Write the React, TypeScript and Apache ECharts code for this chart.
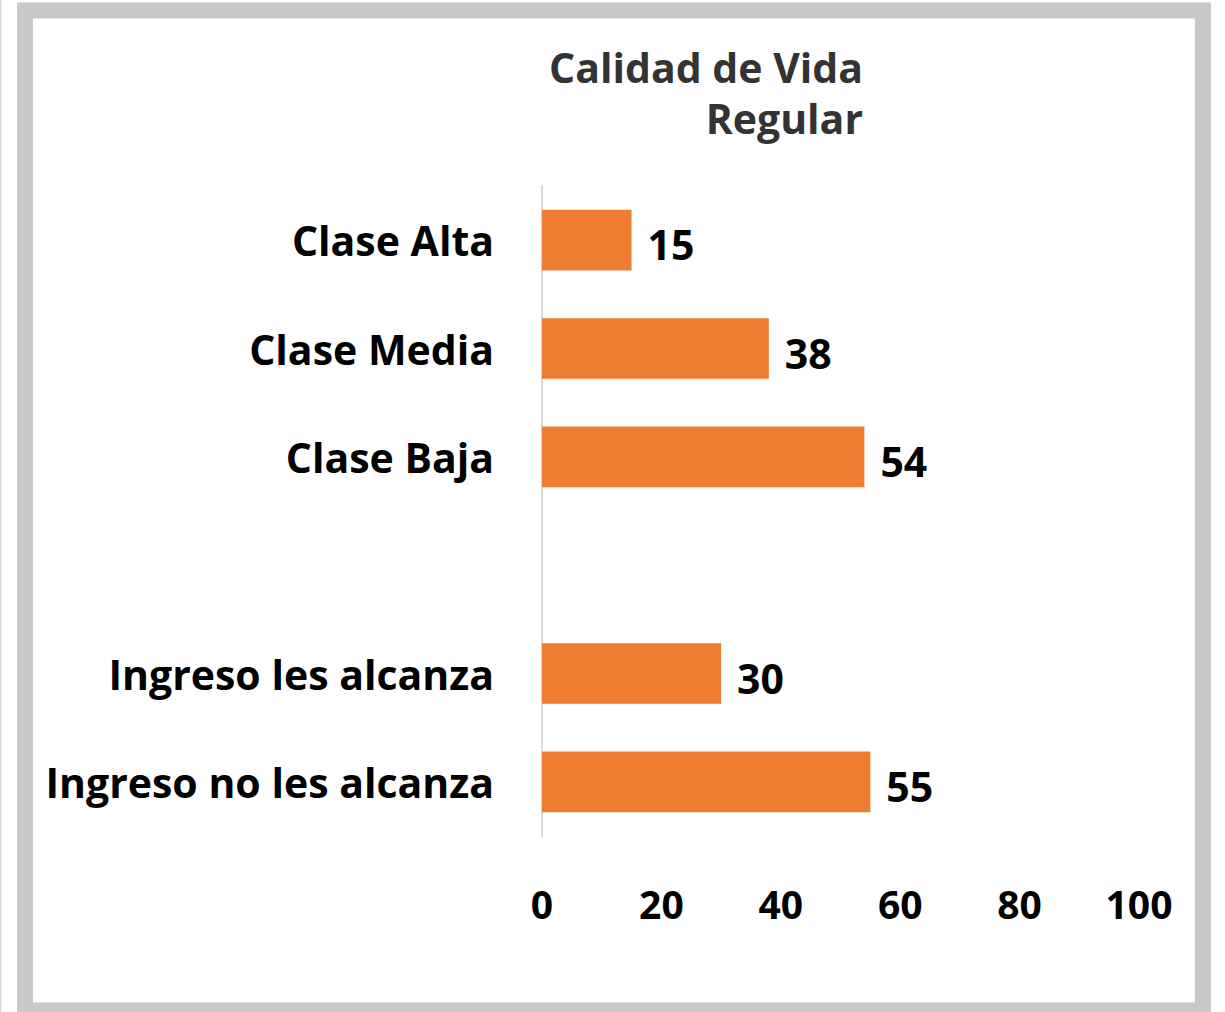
import React, { useEffect, useRef } from "react";
import * as echarts from "echarts";

const categories = ["Clase Alta", "Clase Media", "Clase Baja", "", "Ingreso les alcanza", "Ingreso no les alcanza"];
const values: (number | null)[] = [15, 38, 54, null, 30, 55];
const xTicks = { min: 0, max: 100, interval: 20 };
const titleLines = ["Calidad de Vida", "Regular"];

const FONT = "'Open Sans'";
const FS = 41;

export default function App() {
  const ref = useRef<HTMLDivElement>(null);
  useEffect(() => {
    document.body.style.margin = "0";
    const chart = echarts.init(ref.current!, null, { renderer: "svg" });
    chart.setOption({
      animation: false,
      backgroundColor: "#ffffff",
      grid: { left: 542, right: 86, top: 186, bottom: 176, containLabel: false },
      xAxis: {
        type: "value",
        min: xTicks.min,
        max: xTicks.max,
        interval: xTicks.interval,
        axisLine: { show: false },
        axisTick: { show: false },
        splitLine: { show: false },
        axisLabel: { color: "#000", fontFamily: FONT, fontWeight: "bold", fontSize: 39, margin: 48 },
      },
      yAxis: {
        type: "category",
        inverse: true,
        data: categories,
        axisLine: { show: true, lineStyle: { color: "#d9d9d9", width: 2 } },
        axisTick: { show: false },
        axisLabel: { color: "#000", fontFamily: FONT, fontWeight: "bold", fontSize: FS, margin: 48 },
      },
      series: [
        {
          type: "bar",
          data: values,
          barCategoryGap: "44%",
          itemStyle: { color: "#ed7d31" },
          label: {
            show: true,
            position: "right",
            distance: 16,
            offset: [0, 4],
            color: "#000",
            fontFamily: FONT,
            fontWeight: "bold",
            fontSize: FS,
          },
        },
      ],
      graphic: [
        { type: "line", shape: { x1: 0.5, y1: 0, x2: 0.5, y2: 1012 }, style: { stroke: "#dcdcdc", lineWidth: 2 } },
        { type: "rect", shape: { x: 25, y: 10.5, width: 1178, height: 1000 }, style: { fill: "none", stroke: "#c8c8c8", lineWidth: 16 } },
        ...titleLines.map((t, i) => ({
          type: "text",
          x: 863,
          y: 67 + i * 51,
          style: {
            text: t,
            textAlign: "right",
            textVerticalAlign: "middle",
            fill: "#333333",
            font: `bold 41px ${FONT}`,
          },
        })),
      ],
    });
    return () => chart.dispose();
  }, []);
  return <div ref={ref} style={{ position: "absolute", left: 0, top: 0, width: 1225, height: 1012 }} />;
}
